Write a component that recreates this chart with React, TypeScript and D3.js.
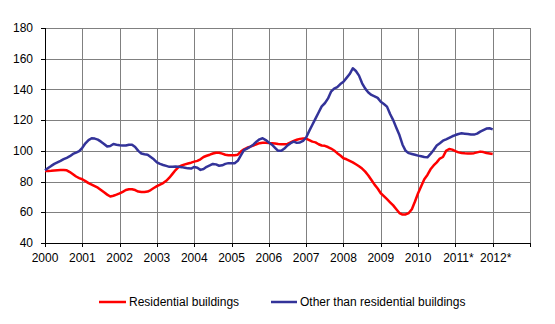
import React from "react";
import * as d3 from "d3";

const yearLabels = ["2000", "2001", "2002", "2003", "2004", "2005", "2006", "2007", "2008", "2009", "2010", "2011*", "2012*"];
const yTicks = [40, 60, 80, 100, 120, 140, 160, 180];
const seriesNames = ["Residential buildings", "Other than residential buildings"];

// Monthly values, Jan 2000 .. Jan 2012
const residential = [
  86.9, 86.9, 87, 87.2, 87.4, 87.5, 87.5, 87.3, 86.2, 84.8, 83.3, 82.3,
  81.5, 80.3, 79, 78, 77, 76, 74.5, 73, 71.5, 70.3, 70.8, 71.5,
  72.3, 73.3, 74.5, 75, 75, 74.5, 73.5, 73.2, 73.2, 73.5, 74.5, 75.8,
  77, 78, 79, 80.5, 82.5, 85, 87.5, 89.6, 90.5, 91.2, 91.8, 92.3,
  93, 93.5, 94.5, 96, 96.8, 97.5, 98.3, 98.8, 98.8, 98.2, 97.5, 97.2,
  97.2, 97.2, 97.5, 99.5, 101, 102, 102.7, 103.5, 104.3, 105, 105.3, 105.3,
  105.1, 105, 104.8, 104.4, 104.3, 104.3, 104.5, 105.5, 106.5, 107.2, 107.8, 108,
  108, 107, 106, 105.5, 104.3, 103.5, 103.3, 102.5, 101.5, 100.2, 98.5, 97,
  95.2, 94.5, 93.5, 92.5, 91.3, 90, 88.5, 86.5, 84, 81, 78, 75.5,
  72.4, 70.5, 68.5, 66.5, 64.5, 62, 59.5, 58.5, 58.6, 59.5, 62, 67,
  72.4, 77, 81.5, 84.3, 88, 90.5, 92.5, 95, 96, 100, 101.2, 100.8,
  99.8, 99, 98.6, 98.4, 98.3, 98.3, 98.5, 99, 99.5, 99.2, 98.6, 98.3,
  98,
];
const other = [
  87.4, 88.8, 90.2, 91.5, 92.5, 93.5, 94.6, 95.5, 96.5, 98, 98.8, 99.8,
  102, 104.9, 107, 108.2, 108, 107.3, 106, 104.5, 102.8, 103.2, 104.5, 104,
  103.7, 103.5, 103.5, 104, 104, 102.5, 100, 98.3, 97.8, 97.5, 96, 94.5,
  92.5, 91.5, 90.8, 90.2, 89.6, 89.7, 89.8, 89.6, 89.4, 89, 88.6, 88.5,
  89.5, 89, 87.6, 88.2, 89.6, 90.5, 91.5, 91.2, 90.3, 90.6, 91.5, 92,
  92, 92, 93.5, 97, 100.5, 101.5, 102.7, 104, 106, 107.5, 108.2, 107,
  105.5, 104, 102, 100, 100, 101.5, 103.5, 105, 106, 105.2, 105.5, 106.5,
  108.7, 113, 117, 121, 125, 129, 131, 134, 138.5, 140.5, 141.5, 143.5,
  145, 147.5, 150, 153.8, 152, 149, 144, 140.5, 138, 136.4, 135.5, 134.5,
  132, 130.5, 128.8, 124, 120, 115, 110.3, 104, 100, 98.5, 98, 97.5,
  96.9, 96.5, 96, 95.8, 98, 100.6, 103.5, 105, 106.6, 107.5, 108.5, 109.5,
  110.3, 111, 111.4, 111.2, 111, 110.7, 110.6, 111.2, 112.5, 113.5, 114.5, 114.7,
  114,
];

const W = 555;
const H = 324;
const left = 45;
const right = 530;
const top = 28;
const bottom = 243;

export default function App() {
  const x = d3.scaleLinear().domain([0, 13]).range([left, right]);
  const y = d3.scaleLinear().domain([40, 180]).range([bottom, top]);
  const line = d3
    .line<number>()
    .x((_, i) => x(i / 12))
    .y((d) => y(d));
  const font = "Arial, 'Liberation Sans', sans-serif";
  const vLines = d3.range(0, 14);
  return (
    <svg width={W} height={H} style={{ position: "absolute", left: 0, top: 0 }} fontFamily={font}>
      <rect width={W} height={H} fill="#fff" />
      {yTicks.map((t) => (
        <line key={"h" + t} x1={left} x2={right} y1={Math.round(y(t)) + 0.5} y2={Math.round(y(t)) + 0.5} stroke="#808080" strokeWidth={1} />
      ))}
      {vLines.map((v) => (
        <line key={"v" + v} x1={Math.round(x(v)) + 0.5} x2={Math.round(x(v)) + 0.5} y1={top} y2={bottom} stroke="#808080" strokeWidth={1} />
      ))}
      {/* axes */}
      <line x1={left + 0.5} x2={left + 0.5} y1={top} y2={bottom + 0.5} stroke="#000" />
      <line x1={left} x2={right + 1} y1={bottom + 0.5} y2={bottom + 0.5} stroke="#000" />
      {yTicks.map((t) => (
        <g key={"yt" + t}>
          <line x1={left - 4} x2={left} y1={Math.round(y(t)) + 0.5} y2={Math.round(y(t)) + 0.5} stroke="#000" />
          <text x={33} y={y(t)} dy="0.35em" textAnchor="end" fontSize={12} fill="#000">
            {t}
          </text>
        </g>
      ))}
      {vLines.map((v) => (
        <line key={"xt" + v} x1={Math.round(x(v)) + 0.5} x2={Math.round(x(v)) + 0.5} y1={bottom} y2={bottom + 4} stroke="#000" />
      ))}
      {yearLabels.map((l, i) => (
        <text key={l} x={x(i) + (l.endsWith("*") ? 3 : 0)} y={262} textAnchor="middle" fontSize={12} fill="#000">
          {l}
        </text>
      ))}
      <path d={line(residential) || ""} fill="none" stroke="#FF0000" strokeWidth={2.5} strokeLinejoin="round" />
      <path d={line(other) || ""} fill="none" stroke="#333399" strokeWidth={2.5} strokeLinejoin="round" />
      {/* legend */}
      <line x1={99} x2={126} y1={302} y2={302} stroke="#FF0000" strokeWidth={2.5} />
      <text x={129} y={306} fontSize={12} fill="#000">{seriesNames[0]}</text>
      <line x1={271} x2={297} y1={302} y2={302} stroke="#333399" strokeWidth={2.5} />
      <text x={300} y={306} fontSize={12} fill="#000">{seriesNames[1]}</text>
    </svg>
  );
}
